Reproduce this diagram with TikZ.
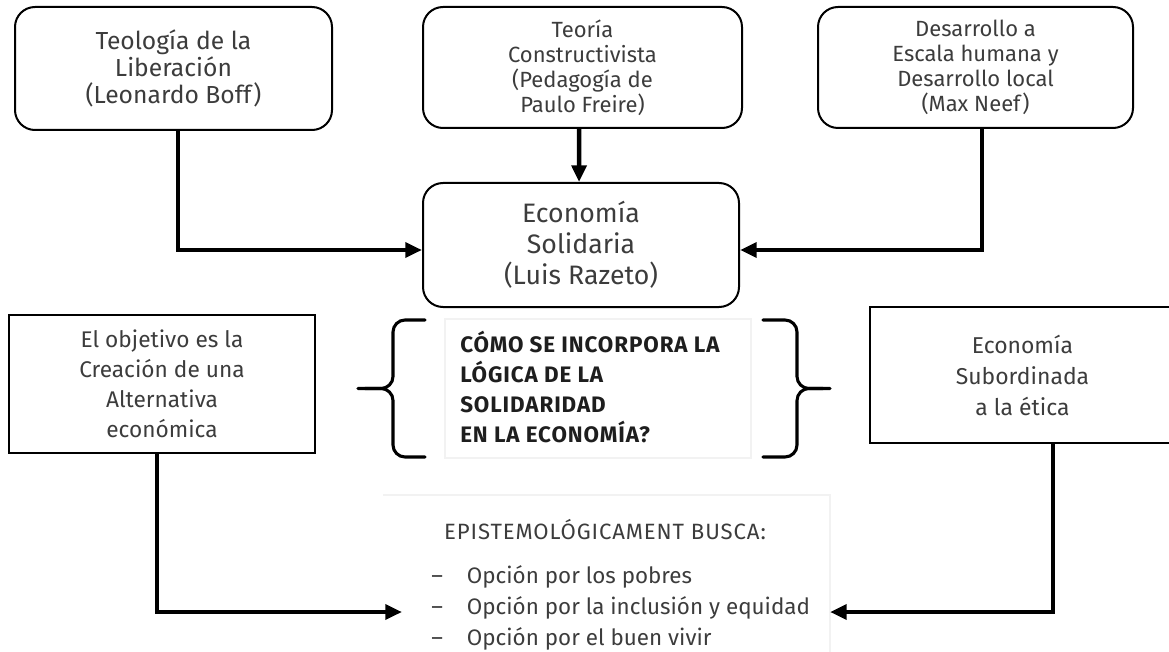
\documentclass[tikz,border=0pt]{standalone}
\usepackage{fontspec}
\setmainfont{Fira Sans}
\usetikzlibrary{arrows.meta}
\definecolor{texto}{HTML}{3C3C3C}
\definecolor{oscuro}{HTML}{1E1E1E}
\tikzset{
  redonda/.style={draw,line width=1.5pt,rounded corners=15pt,align=center,text=texto,inner sep=0pt},
  cuadro/.style={draw,line width=1.5pt,align=center,text=texto,inner sep=0pt},
  conector/.style={line width=3.4pt,-{Triangle[length=12.5pt,width=11pt]}},
  llave/.style={line width=2.3pt,rounded corners=9pt,line cap=round},
  tenue/.style={draw=black!5,line width=0.8pt}
}
\begin{document}
\begin{tikzpicture}[x=0.75pt,y=-0.75pt]
\useasboundingbox (0,0) rectangle (1169,652);

% marcos tenues
\draw[tenue] (445,319) rectangle (751,458);
\draw[tenue] (383,495) -- (830,495) -- (830,660);

% fuentes teoricas
\node[redonda,minimum width=237.75pt,minimum height=92.25pt,
  font=\fontsize{18.5}{20.25}\selectfont] (boff) at (173.5,68.5)
  {Teología de la\\Liberación\\(Leonardo Boff)};
\node[redonda,minimum width=239.25pt,minimum height=90.75pt,
  font=\fontsize{16.5}{18.75}\selectfont] (freire) at (582.5,67.5)
  {Teoría\\Constructivista\\(Pedagogía de\\Paulo Freire)};
\node[redonda,minimum width=236.25pt,minimum height=90.75pt,
  font=\fontsize{16.5}{18.75}\selectfont] (neef) at (975.5,67.5)
  {Desarrollo a\\Escala humana y\\Desarrollo local\\(Max Neef)};

% nucleo
\node[redonda,minimum width=237pt,minimum height=93pt,
  font=\fontsize{20}{23.25}\selectfont] (razeto) at (581,245)
  {Economía\\Solidaria\\(Luis Razeto)};

% segunda fila
\node[cuadro,minimum width=229.5pt,minimum height=103.5pt,
  font=\fontsize{17}{22.5}\selectfont] (objetivo) at (162,384)
  {El objetivo es la\\Creación de una\\Alternativa\\económica};
\node[cuadro,minimum width=228.75pt,minimum height=102pt,
  font=\fontsize{17.2}{23.25}\selectfont] (etica) at (1022.5,375)
  {Economía\\Subordinada\\a la ética};

\node[anchor=west,align=left,text=oscuro,inner sep=0pt,
  font=\bfseries\fontsize{16.8}{22.5}\selectfont\addfontfeatures{LetterSpace=4}] (pregunta) at (460,387)
  {CÓMO SE INCORPORA LA\\LÓGICA DE LA\\SOLIDARIDAD\\EN LA ECONOMÍA?};
\draw[llave] (425,320) -- (393,320) -- (393,388.5) -- (358,388.5);
\draw[llave] (425,457) -- (393,457) -- (393,388.5) -- (365,388.5);
\draw[llave] (763,320) -- (797,320) -- (797,388.5) -- (830,388.5);
\draw[llave] (763,457) -- (797,457) -- (797,388.5) -- (823,388.5);

% busqueda
\node[text=texto,inner sep=0pt,font=\fontsize{16.6}{18}\selectfont\addfontfeatures{LetterSpace=4}] (busca) at (605,530)
  {EPISTEMOLÓGICAMENT BUSCA:};
\node[anchor=west,text=texto,inner sep=0pt,font=\fontsize{16.8}{18}\selectfont] (lista) at (431,608)
  {\renewcommand{\arraystretch}{1.3}%
   \begin{tabular}{@{}l@{\hspace{18pt}}l@{}}
   – & Opción por los pobres\\
   – & Opción por la inclusión y equidad\\
   – & Opción por el buen vivir
   \end{tabular}};
\coordinate (izq) at (402,612);
\coordinate (der) at (830,612);

% conectores
\draw[conector] ([xshift=3.5pt]boff.south) |- ([yshift=-3.75pt]razeto.west);
\draw[conector] ([xshift=-2.5pt]freire.south) -- ([xshift=-1.5pt]razeto.north);
\draw[conector] ([xshift=4.9pt]neef.south) |- ([yshift=-3.75pt]razeto.east);
\draw[conector] ([xshift=-3.75pt]objetivo.south) |- (izq);
\draw[conector] ([xshift=23pt]etica.south) |- (der);
\end{tikzpicture}
\end{document}
